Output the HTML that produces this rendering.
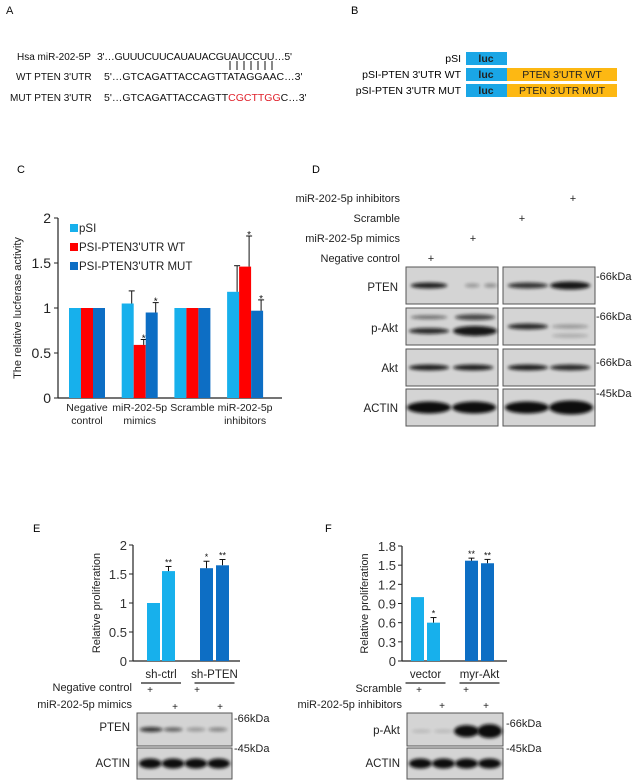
<!DOCTYPE html>
<html><head><meta charset="utf-8">
<style>
html,body{margin:0;padding:0;background:#fff;}
svg{display:block;font-family:"Liberation Sans",Arial,sans-serif;}
</style></head>
<body>
<svg id="fig" width="633" height="780" viewBox="0 0 633 780">
<defs>
<filter id="blur" x="-20%" y="-100%" width="140%" height="300%"><feGaussianBlur stdDeviation="1.6"/></filter>
</defs>
<!-- Panel A -->
<g font-size="10.5" fill="#111">
<text x="6" y="14" font-size="11">A</text>
<text x="17" y="60" font-size="10">Hsa miR-202-5P</text>
<text x="97" y="60" textLength="195">3'…GUUUCUUCAUAUACGUAUCCUU…5'</text>
<g stroke="#111" stroke-width="1">
<line x1="230" y1="61" x2="230" y2="70"/><line x1="237" y1="61" x2="237" y2="70"/><line x1="244" y1="61" x2="244" y2="70"/><line x1="251" y1="61" x2="251" y2="70"/><line x1="258" y1="61" x2="258" y2="70"/><line x1="265" y1="61" x2="265" y2="70"/><line x1="272" y1="61" x2="272" y2="70"/>
</g>
<text x="16" y="80" font-size="10">WT PTEN 3'UTR</text>
<text x="104" y="80">5'…GTCAGATTACCAGTTATAGGAAC…3'</text>
<text x="10" y="101" font-size="10">MUT PTEN 3'UTR</text>
<text x="104" y="101">5'…GTCAGATTACCAGTT<tspan fill="#e0202a">CGCTTGG</tspan>C…3'</text>
</g>
<!-- Panel B -->
<g font-size="10.5">
<text x="351" y="14" font-size="11">B</text>
<text x="461" y="62" text-anchor="end">pSI</text>
<text x="461" y="78" text-anchor="end">pSI-PTEN 3'UTR WT</text>
<text x="461" y="94" text-anchor="end">pSI-PTEN 3'UTR MUT</text>
<rect x="466" y="52" width="41" height="13" fill="#1aa6e6"/>
<rect x="466" y="68" width="41" height="13" fill="#1aa6e6"/>
<rect x="466" y="84" width="41" height="13" fill="#1aa6e6"/>
<rect x="507" y="68" width="110" height="13" fill="#fdb813"/>
<rect x="507" y="84" width="110" height="13" fill="#fdb813"/>
<g font-weight="bold" fill="#222" text-anchor="middle">
<text x="486" y="62">luc</text><text x="486" y="78">luc</text><text x="486" y="94">luc</text>
<text x="562" y="78" font-weight="normal">PTEN 3'UTR WT</text><text x="562" y="94" font-weight="normal">PTEN 3'UTR MUT</text>
</g>
</g>
<text x="17" y="173" font-size="11">C</text>
<text x="312" y="173" font-size="11">D</text>
<text x="33" y="532" font-size="11">E</text>
<text x="325" y="532" font-size="11">F</text>
<g id="chartC"></g>
<g id="chartE"></g>
<g id="chartF"></g>
<g id="blots"></g>
</svg>
<script>
// Panel C data
const cCategories = [["Negative","control"],["miR-202-5p","mimics"],["Scramble",""],["miR-202-5p","inhibitors"]];
const cSeriesNames = ["pSI","PSI-PTEN3'UTR WT","PSI-PTEN3'UTR MUT"];
const cPSI = [1, 1.05, 1, 1.18];
const cPSIerr = [0, 0.14, 0, 0.29];
const cWT = [1, 0.59, 1, 1.46];
const cWTerr = [0, 0.06, 0, 0.34];
const cMUT = [1, 0.95, 1, 0.97];
const cMUTerr = [0, 0.11, 0, 0.12];
const cStars = [["","",""],["","*","*"],["","",""],["","*","*"]];
const cTicks = [0, 0.5, 1, 1.5, 2];
const cTickLabels = ["0","0.5","1","1.5","2"];
// Panel E data
const eCategories = ["sh-ctrl","sh-PTEN"];
const eValues = [1, 1.55, 1.6, 1.65];
const eErr = [0, 0.08, 0.12, 0.1];
const eStars = ["","**","*","**"];
const eTicks = [0, 0.5, 1, 1.5, 2];
const eTickLabels = ["0","0.5","1","1.5","2"];
// Panel F data
const fCategories = ["vector","myr-Akt"];
const fValues = [1, 0.6, 1.57, 1.53];
const fErr = [0, 0.08, 0.04, 0.06];
const fStars = ["","*","**","**"];
const fTicks = [0, 0.3, 0.6, 0.9, 1.2, 1.5, 1.8];
const fTickLabels = ["0","0.3","0.6","0.9","1.2","1.5","1.8"];

const NS="http://www.w3.org/2000/svg";
function mk(parent,tag,attrs,text){const e=document.createElementNS(NS,tag);for(const k in attrs)e.setAttribute(k,attrs[k]);if(text!==undefined)e.textContent=text;parent.appendChild(e);return e;}
const colPSI="#17b0ec", colWT="#ff0000", colMUT="#0d6ec4";

// ---- Chart C ----
(function(){
const g=document.getElementById('chartC');
const x0=58,x1=282,yBase=398,yTop=218,vMax=2;
const y=v=>yBase-(v/vMax)*(yBase-yTop);
const groupW=52.7;
const barW=12;
const gx=i=>x0+29+groupW*i;
mk(g,'line',{x1:x0,y1:yTop,x2:x0,y2:yBase,stroke:'#222','stroke-width':1.2});
mk(g,'line',{x1:x0,y1:yBase,x2:x1,y2:yBase,stroke:'#222','stroke-width':1.2});
cTicks.forEach((t,i)=>{
 mk(g,'line',{x1:x0-4,y1:y(t),x2:x0,y2:y(t),stroke:'#222'});
 const tl=mk(g,'text',{x:x0-7,y:y(t)+5,'text-anchor':'end','font-size':14,fill:'#222'},cTickLabels[i]);
 
 
});
const yt=mk(g,'text',{x:0,y:0,transform:'translate(21,308) rotate(-90)','text-anchor':'middle','font-size':11,fill:'#222'},'The relative lucferase activity');


const series=[[cPSI,cPSIerr,colPSI],[cWT,cWTerr,colWT],[cMUT,cMUTerr,colMUT]];
cCategories.forEach((c,i)=>{
 const cx=gx(i);
 series.forEach((s,j)=>{
  const bx=cx-18+j*barW;
  const r=mk(g,'rect',{x:bx,y:y(s[0][i]),width:barW,height:yBase-y(s[0][i]),fill:s[2]});
  
  
  if(s[1][i]>0){
   const ty=y(s[0][i]+s[1][i]);
   mk(g,'line',{x1:bx+barW-2,y1:y(s[0][i]),x2:bx+barW-2,y2:ty,stroke:'#111','stroke-width':1});
   mk(g,'line',{x1:bx+barW-5,y1:ty,x2:bx+barW+1,y2:ty,stroke:'#111','stroke-width':1});
  }
  if(cStars[i][j]) mk(g,'text',{x:bx+barW-2,y:y(s[0][i]+s[1][i])+2,'text-anchor':'middle','font-size':10,fill:'#111'},cStars[i][j]);
 });
 const l=mk(g,'text',{x:cx,y:411,'text-anchor':'middle','font-size':10.5,fill:'#222'},c[0]);
 
 
 if(c[1]) mk(g,'text',{x:cx,y:424,'text-anchor':'middle','font-size':10.5,fill:'#222'},c[1]);
});
[colPSI,colWT,colMUT].forEach((col,j)=>{
 const ly=229+j*19;
 const lg=mk(g,'g',{});
 
 
 mk(lg,'rect',{x:70,y:ly-5,width:8,height:8,fill:col});
 mk(lg,'text',{x:79,y:ly+3,'font-size':11.5,fill:'#222'},cSeriesNames[j]);
});
})();

function smallChart(id,x0,x1,yBase,yTop,vMax,ticks,tickLabels,values,err,stars,cats,barX,title,titleX){
 const g=document.getElementById(id);
 const y=v=>yBase-(v/vMax)*(yBase-yTop);
 mk(g,'line',{x1:x0,y1:yTop,x2:x0,y2:yBase,stroke:'#222','stroke-width':1.2});
 mk(g,'line',{x1:x0,y1:yBase,x2:x1,y2:yBase,stroke:'#222','stroke-width':1.2});
 ticks.forEach((t,i)=>{
  mk(g,'line',{x1:x0-4,y1:y(t),x2:x0,y2:y(t),stroke:'#222'});
  const tl=mk(g,'text',{x:x0-6,y:y(t)+5,'text-anchor':'end','font-size':13,fill:'#333'},tickLabels[i]);
  
  
 });
 const yt=mk(g,'text',{x:0,y:0,transform:'translate('+titleX+','+((yBase+yTop)/2)+') rotate(-90)','text-anchor':'middle','font-size':11,fill:'#222'},title);
 
 
 values.forEach((v,i)=>{
  const bx=barX[i], w=13, col=i<2?colPSI:colMUT;
  const r=mk(g,'rect',{x:bx,y:y(v),width:w,height:yBase-y(v),fill:col});
  
  
  if(err[i]>0){const ty=y(v+err[i]);
   mk(g,'line',{x1:bx+w/2,y1:y(v),x2:bx+w/2,y2:ty,stroke:'#111'});
   mk(g,'line',{x1:bx+w/2-3,y1:ty,x2:bx+w/2+3,y2:ty,stroke:'#111'});}
  if(stars[i]) mk(g,'text',{x:bx+w/2,y:y(v+err[i])-1,'text-anchor':'middle','font-size':9,fill:'#111'},stars[i]);
 });
 cats.forEach((c,k)=>{
  const cx=(barX[2*k]+barX[2*k+1]+13)/2;
  const l=mk(g,'text',{x:cx,y:yBase+17,'text-anchor':'middle','font-size':11.5,fill:'#222'},c);
  
  
  mk(g,'line',{x1:cx-20,y1:yBase+22,x2:cx+20,y2:yBase+22,stroke:'#222','stroke-width':1.3});
 });
}
smallChart('chartE',133,240,661,545,2,eTicks,eTickLabels,eValues,eErr,eStars,eCategories,[147,162,200,216],'Relative proliferation',100);
smallChart('chartF',402,507,661,546,1.8,fTicks,fTickLabels,fValues,fErr,fStars,fCategories,[411,427,465,481],'Relative proliferation',368);

// ---- Blots ----
const B=document.getElementById('blots');
function txt(x,y,s,anchor,size){const t=mk(B,'text',{x:x,y:y,'text-anchor':anchor||'start','font-size':size||11,fill:'#222'},s);return t;}
function box(x,y,w,h,bands){
 const gg=mk(B,'g',{});
 
 
 mk(gg,'rect',{x:x,y:y,width:w,height:h,fill:'#d4d4d4',stroke:'#555','stroke-width':1});
 bands.forEach(b=>{mk(gg,'ellipse',{cx:x+b[0]*w,cy:y+b[1]*h,rx:b[2]*w,ry:b[3],fill:'#111',opacity:b[4],filter:'url(#blur)'});});
}
// Panel D
['miR-202-5p inhibitors','Scramble','miR-202-5p mimics','Negative control'].forEach((s,i)=>txt(400,202+i*20,s,'end',11));
[[573,198],[522,218],[473,238],[431,258]].forEach(p=>txt(p[0],p[1]+4,'+','middle',11));
box(406,267,92,37,[[0.25,0.5,0.2,3,0.9],[0.72,0.5,0.08,2,0.3],[0.92,0.5,0.07,2,0.35]]);
box(503,267,92,37,[[0.27,0.5,0.22,3,0.8],[0.73,0.5,0.22,4,0.95]]);
box(406,308,92,37,[[0.25,0.25,0.2,2,0.5],[0.25,0.62,0.22,3,0.85],[0.75,0.25,0.22,3,0.7],[0.75,0.62,0.24,5,0.95]]);
box(503,308,92,37,[[0.27,0.5,0.22,3,0.85],[0.73,0.5,0.2,2,0.3],[0.73,0.75,0.2,2,0.2]]);
box(406,349,92,37,[[0.25,0.5,0.22,3,0.9],[0.73,0.5,0.22,3,0.9]]);
box(503,349,92,37,[[0.27,0.5,0.22,3,0.9],[0.73,0.5,0.22,3,0.85]]);
box(406,389,92,37,[[0.25,0.5,0.24,6,1],[0.74,0.5,0.24,6,1]]);
box(503,389,92,37,[[0.26,0.5,0.24,6,1],[0.74,0.5,0.24,7,1]]);
txt(398,291,'PTEN','end',11.5);txt(398,332,'p-Akt','end',11.5);txt(398,372,'Akt','end',11.5);txt(398,412,'ACTIN','end',11.5);
txt(596,280,'-66kDa');txt(596,320,'-66kDa');txt(596,366,'-66kDa');txt(596,397,'-45kDa');
// Panel E blots
txt(132,691,'Negative control','end',11);txt(132,708,'miR-202-5p mimics','end',11);
[[150,689],[197,689],[175,706],[220,706]].forEach(p=>txt(p[0],p[1]+4,'+','middle',10));
box(137,713,95,33,[[0.15,0.5,0.12,2.5,0.8],[0.38,0.5,0.1,2,0.6],[0.62,0.5,0.1,2,0.3],[0.85,0.5,0.1,2,0.4]]);
box(137,748,95,31,[[0.14,0.5,0.12,5,1],[0.38,0.5,0.12,5,1],[0.62,0.5,0.12,5,1],[0.86,0.5,0.12,5,1]]);
txt(130,731,'PTEN','end',11.5);txt(130,767,'ACTIN','end',11.5);
txt(234,722,'-66kDa');txt(234,752,'-45kDa');
// Panel F blots
txt(402,692,'Scramble','end',11);txt(402,708,'miR-202-5p inhibitors','end',11);
[[419,689],[466,689],[442,705],[486,705]].forEach(p=>txt(p[0],p[1]+4,'+','middle',10));
box(407,713,96,33,[[0.15,0.55,0.1,1.5,0.15],[0.38,0.55,0.1,1.5,0.15],[0.62,0.55,0.13,6,1],[0.86,0.55,0.13,7,1]]);
box(407,748,96,31,[[0.14,0.5,0.12,5,1],[0.38,0.5,0.12,5,1],[0.62,0.5,0.12,5,1],[0.86,0.5,0.12,5,1]]);
txt(400,734,'p-Akt','end',11.5);txt(400,767,'ACTIN','end',11.5);
txt(506,727,'-66kDa');txt(506,752,'-45kDa');
</script>
</body></html>
